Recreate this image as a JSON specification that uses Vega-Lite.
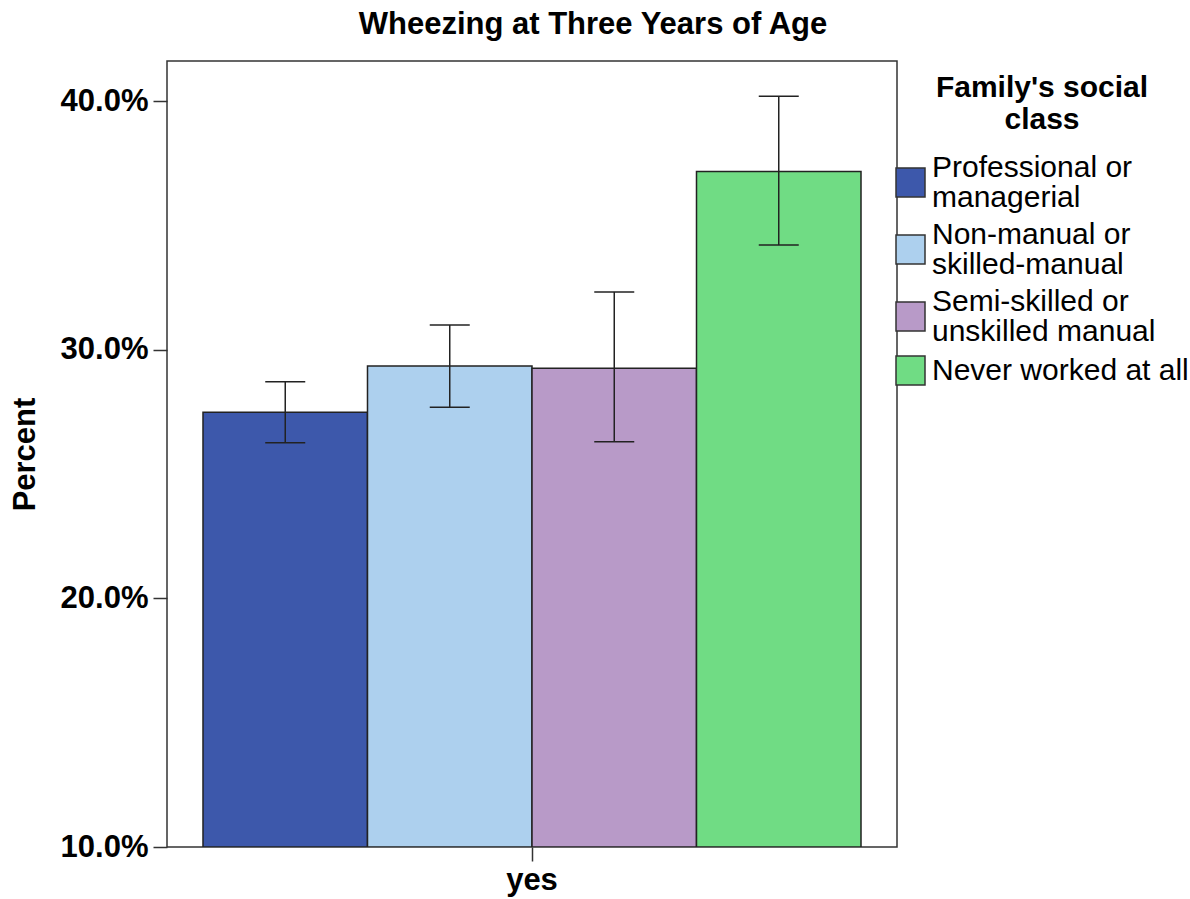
{
  "$schema": "https://vega.github.io/schema/vega-lite/v6.json",
  "width": 730,
  "height": 786,
  "autosize": {"type": "none"},
  "padding": {"left": 167, "top": 61, "right": 293, "bottom": 52},
  "background": "white",
  "config": {
    "font": "Liberation Sans",
    "view": {"stroke": "#333", "strokeWidth": 1.5},
    "style": {"guide-label": {"lineHeight": 30}},
    "legend": {
      "titleFontSize": 30,
      "titleFontWeight": "bold",
      "titleColor": "black",
      "titleAnchor": "middle",
      "titleAlign": "center",
      "titleLineHeight": 32,
      "titlePadding": 17,
      "titleLimit": 500,
      "labelFontSize": 30,
      "labelColor": "black",
      "labelLimit": 500,
      "labelOffset": 6,
      "symbolSize": 841,
      "symbolStrokeColor": "#333",
      "symbolStrokeWidth": 1.5,
      "symbolOpacity": 1,
      "symbolFillColor": "#999",
      "rowPadding": 6,
      "padding": 0
    }
  },
  "title": {
    "text": "Wheezing at Three Years of Age",
    "fontSize": 31,
    "fontWeight": "bold",
    "color": "black",
    "anchor": "middle",
    "dx": 61,
    "offset": 20
  },
  "data": {
    "values": [
      {"wheeze": "yes", "cls": "Professional or managerial", "pct": 27.49, "lo": 26.26, "hi": 28.72},
      {"wheeze": "yes", "cls": "Non-manual or skilled-manual", "pct": 29.35, "lo": 27.69, "hi": 31.0},
      {"wheeze": "yes", "cls": "Semi-skilled or unskilled manual", "pct": 29.26, "lo": 26.3, "hi": 32.33},
      {"wheeze": "yes", "cls": "Never worked at all", "pct": 37.17, "lo": 34.22, "hi": 40.2}
    ]
  },
  "encoding": {
    "x": {
      "field": "wheeze",
      "type": "nominal",
      "scale": {"paddingInner": 0, "paddingOuter": 0.0547},
      "axis": {
        "title": null,
        "labelFontSize": 31,
        "labelFontWeight": "bold",
        "labelColor": "black",
        "labelAngle": 0,
        "tickSize": 14,
        "tickColor": "#333",
        "tickWidth": 1.5,
        "domain": false,
        "labelPadding": 4
      }
    },
    "xOffset": {
      "field": "cls",
      "type": "nominal",
      "sort": ["Professional or managerial", "Non-manual or skilled-manual", "Semi-skilled or unskilled manual", "Never worked at all"],
      "scale": {"paddingInner": 0, "paddingOuter": 0}
    }
  },
  "layer": [
    {
      "mark": {"type": "bar", "stroke": "#222", "strokeWidth": 1.5, "clip": true},
      "encoding": {
        "y": {
          "field": "pct",
          "type": "quantitative",
          "scale": {"domain": [10, 41.62], "nice": false, "zero": false},
          "axis": {
            "values": [10, 20, 30, 40],
            "labelExpr": "format(datum.value, '.1f') + '%'",
            "title": "Percent",
            "titleFontSize": 31,
            "titleFontWeight": "bold",
            "titleColor": "black",
            "titlePadding": 19,
            "labelFontSize": 31,
            "labelFontWeight": "bold",
            "labelColor": "black",
            "tickSize": 14,
            "tickColor": "#333",
            "tickWidth": 1.5,
            "domain": false,
            "grid": false,
            "labelPadding": 5
          }
        },
        "y2": {"datum": 10},
        "color": {
          "field": "cls",
          "type": "nominal",
          "scale": {
            "domain": ["Professional or managerial", "Non-manual or skilled-manual", "Semi-skilled or unskilled manual", "Never worked at all"],
            "range": ["#3D58AB", "#ADD0EE", "#B89AC8", "#70DC84"]
          },
          "legend": {
            "orient": "none",
            "legendX": 728,
            "legendY": 12,
            "title": ["Family's social", "class"],
            "labelExpr": "datum.label == 'Professional or managerial' ? ['Professional or', 'managerial'] : datum.label == 'Non-manual or skilled-manual' ? ['Non-manual or', 'skilled-manual'] : datum.label == 'Semi-skilled or unskilled manual' ? ['Semi-skilled or', 'unskilled manual'] : datum.label"
          }
        }
      }
    },
    {
      "mark": {"type": "point", "filled": true, "opacity": 0},
      "encoding": {
        "y": {"field": "pct", "type": "quantitative"},
        "color": {"field": "cls", "type": "nominal"},
        "shape": {
          "field": "cls",
          "type": "nominal",
          "scale": {
            "domain": ["Professional or managerial", "Non-manual or skilled-manual", "Semi-skilled or unskilled manual", "Never worked at all"],
            "range": ["M-1,0.03H1V2.03H-1Z", "M-1,0.03H1V2.03H-1Z", "M-1,0.03H1V2.03H-1Z", "M-1,-1H1V1H-1Z"]
          },
          "legend": {
            "orient": "none",
            "legendX": 728,
            "legendY": 12,
            "title": ["Family's social", "class"],
            "labelExpr": "datum.label == 'Professional or managerial' ? ['Professional or', 'managerial'] : datum.label == 'Non-manual or skilled-manual' ? ['Non-manual or', 'skilled-manual'] : datum.label == 'Semi-skilled or unskilled manual' ? ['Semi-skilled or', 'unskilled manual'] : datum.label"
          }
        }
      }
    },
    {
      "mark": {"type": "rule", "color": "#222", "strokeWidth": 1.5},
      "encoding": {
        "y": {"field": "lo", "type": "quantitative"},
        "y2": {"field": "hi"}
      }
    },
    {
      "mark": {"type": "tick", "color": "#222", "size": 40, "thickness": 1.5, "opacity": 1},
      "encoding": {
        "y": {"field": "lo", "type": "quantitative"}
      }
    },
    {
      "mark": {"type": "tick", "color": "#222", "size": 40, "thickness": 1.5, "opacity": 1},
      "encoding": {
        "y": {"field": "hi", "type": "quantitative"}
      }
    }
  ]
}
